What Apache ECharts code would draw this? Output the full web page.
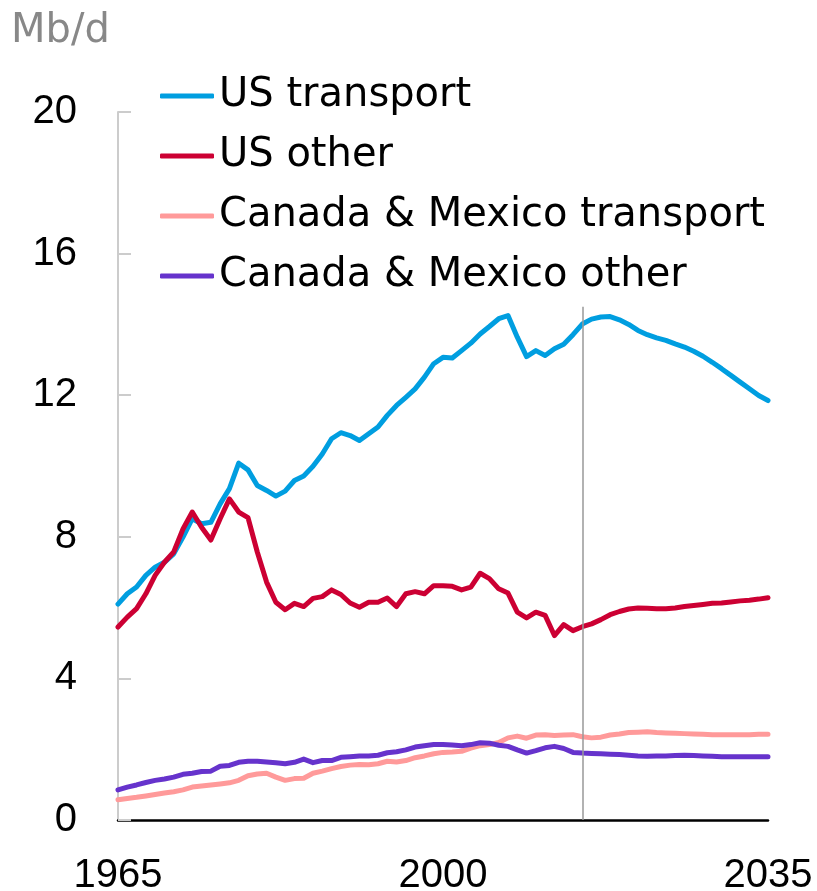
<!DOCTYPE html>
<html>
<head>
<meta charset="utf-8">
<script src="https://cdn.jsdelivr.net/npm/echarts@6.0.0/dist/echarts.min.js"></script>
<style>
  html, body { margin: 0; padding: 0; background: #fff; }
  #chart { width: 817px; height: 891px; }
</style>
</head>
<body>
<div id="chart"></div>
<script>
// years on the x axis, 1965 .. 2035
const years = [];
for (let y = 1965; y <= 2035; y++) years.push(String(y));

const yearLabels = ["1965", "2000", "2035"];
const forecastYear = "2015";
const forecastLineTop = 14.5;

const seriesNames = [
  "US transport",
  "US other",
  "Canada & Mexico transport",
  "Canada & Mexico other"
];

const usTransport = [
  6.10, 6.39, 6.58, 6.91, 7.14, 7.28, 7.52, 7.99, 8.51, 8.37,
  8.41, 8.93, 9.36, 10.08, 9.89, 9.45, 9.31, 9.15, 9.29, 9.59,
  9.72, 9.99, 10.34, 10.77, 10.94, 10.86, 10.72, 10.91, 11.10, 11.43,
  11.71, 11.94, 12.18, 12.51, 12.89, 13.07, 13.05, 13.26, 13.47, 13.73,
  13.94, 14.16, 14.25, 13.64, 13.09, 13.26, 13.12, 13.31, 13.44, 13.71,
  14.01, 14.15, 14.21, 14.22, 14.13, 14.00, 13.83, 13.71, 13.62, 13.55,
  13.45, 13.36, 13.24, 13.10, 12.93, 12.75, 12.56, 12.37, 12.18, 11.99,
  11.85
];

const usOther = [
  5.45, 5.73, 5.97, 6.39, 6.91, 7.28, 7.57, 8.22, 8.70, 8.27,
  7.91, 8.51, 9.07, 8.70, 8.54, 7.57, 6.72, 6.15, 5.94, 6.12,
  6.03, 6.26, 6.31, 6.50, 6.37, 6.13, 6.01, 6.15, 6.15, 6.27,
  6.03, 6.39, 6.45, 6.39, 6.62, 6.62, 6.60, 6.50, 6.58, 6.97,
  6.82, 6.53, 6.41, 5.87, 5.71, 5.87, 5.78, 5.21, 5.52, 5.35,
  5.46, 5.54, 5.66, 5.80, 5.89, 5.96, 5.99, 5.98, 5.97, 5.97,
  5.99, 6.03, 6.06, 6.09, 6.12, 6.13, 6.16, 6.19, 6.21, 6.24,
  6.28
];

const caMxTransport = [
  0.57, 0.61, 0.64, 0.68, 0.72, 0.76, 0.80, 0.85, 0.93, 0.96,
  0.99, 1.02, 1.05, 1.12, 1.25, 1.30, 1.32, 1.21, 1.12, 1.17,
  1.18, 1.32, 1.38, 1.45, 1.51, 1.55, 1.57, 1.56, 1.59, 1.66,
  1.64, 1.68, 1.76, 1.81, 1.87, 1.91, 1.92, 1.94, 2.03, 2.10,
  2.13, 2.19, 2.32, 2.37, 2.31, 2.40, 2.41, 2.39, 2.40, 2.41,
  2.35, 2.32, 2.34, 2.40, 2.43, 2.47, 2.48, 2.49, 2.47, 2.46,
  2.45, 2.44, 2.43, 2.42, 2.41, 2.41, 2.41, 2.41, 2.41, 2.42,
  2.42
];

const caMxOther = [
  0.85, 0.93, 0.99, 1.06, 1.12, 1.16, 1.21, 1.29, 1.32, 1.37,
  1.38, 1.52, 1.54, 1.63, 1.66, 1.66, 1.64, 1.62, 1.59, 1.63,
  1.72, 1.62, 1.68, 1.68, 1.77, 1.79, 1.81, 1.81, 1.83, 1.90,
  1.93, 1.98, 2.06, 2.10, 2.13, 2.13, 2.12, 2.10, 2.13, 2.18,
  2.17, 2.11, 2.08, 1.98, 1.89, 1.96, 2.04, 2.08, 2.02, 1.91,
  1.89, 1.88, 1.87, 1.86, 1.85, 1.83, 1.81, 1.80, 1.81, 1.81,
  1.82, 1.83, 1.82, 1.81, 1.80, 1.79, 1.79, 1.79, 1.79, 1.79,
  1.79
];

const colors = ["#009ee0", "#cc0033", "#ff9a9a", "#6633cc"];
const seriesData = [usTransport, usOther, caMxTransport, caMxOther];

const labelFont = "'Liberation Sans', Arial, sans-serif";
const textFont = "'DejaVu Sans', sans-serif";

const option = {
  animation: false,
  backgroundColor: "#fff",
  color: colors,
  graphic: [
    {
      type: "text",
      left: 11,
      top: 12,
      style: {
        text: "Mb/d",
        fill: "#888",
        font: "40px " + textFont
      }
    }
  ],
  legend: {
    orient: "vertical",
    left: 155,
    top: 71,
    icon: "roundRect",
    itemWidth: 54,
    itemHeight: 5,
    itemGap: 20,
    data: seriesNames,
    textStyle: {
      color: "#000",
      fontFamily: textFont,
      fontSize: 40,
      lineHeight: 40
    }
  },
  grid: {
    left: 118,
    right: 49,
    top: 112,
    bottom: 71,
    outerBoundsMode: "none"
  },
  xAxis: {
    type: "category",
    data: years,
    boundaryGap: false,
    axisLine: {
      lineStyle: { color: "#000", width: 2.5 }
    },
    axisTick: { show: false },
    axisLabel: {
      interval: (i, v) => yearLabels.indexOf(v) >= 0,
      showMinLabel: true,
      showMaxLabel: true,
      color: "#000",
      fontFamily: labelFont,
      fontSize: 40,
      margin: 36
    },
    splitLine: { show: false }
  },
  yAxis: {
    type: "value",
    min: 0,
    max: 20,
    interval: 4,
    axisLine: {
      show: true,
      lineStyle: { color: "#ccc", width: 2 }
    },
    axisTick: {
      show: true,
      inside: true,
      length: 13,
      lineStyle: { color: "#ccc", width: 2 }
    },
    axisLabel: {
      color: "#000",
      fontFamily: labelFont,
      fontSize: 40,
      margin: 41
    },
    splitLine: { show: false }
  },
  series: []
};

for (let i = 0; i < seriesNames.length; i++) {
  const s = {
    name: seriesNames[i],
    type: "line",
    data: seriesData[i],
    symbol: "none",
    smooth: false,
    lineStyle: {
      width: 5,
      color: colors[i],
      cap: "round",
      join: "round"
    }
  };
  if (i === 0) {
    // forecast divider
    s.markLine = {
      silent: true,
      symbol: "none",
      label: { show: false },
      lineStyle: { color: "#999", width: 1.5, type: "solid" },
      data: [[
        { coord: [forecastYear, 0] },
        { coord: [forecastYear, forecastLineTop] }
      ]]
    };
  }
  option.series.push(s);
}

const chart = echarts.init(document.getElementById("chart"));
chart.setOption(option);
</script>
</body>
</html>
